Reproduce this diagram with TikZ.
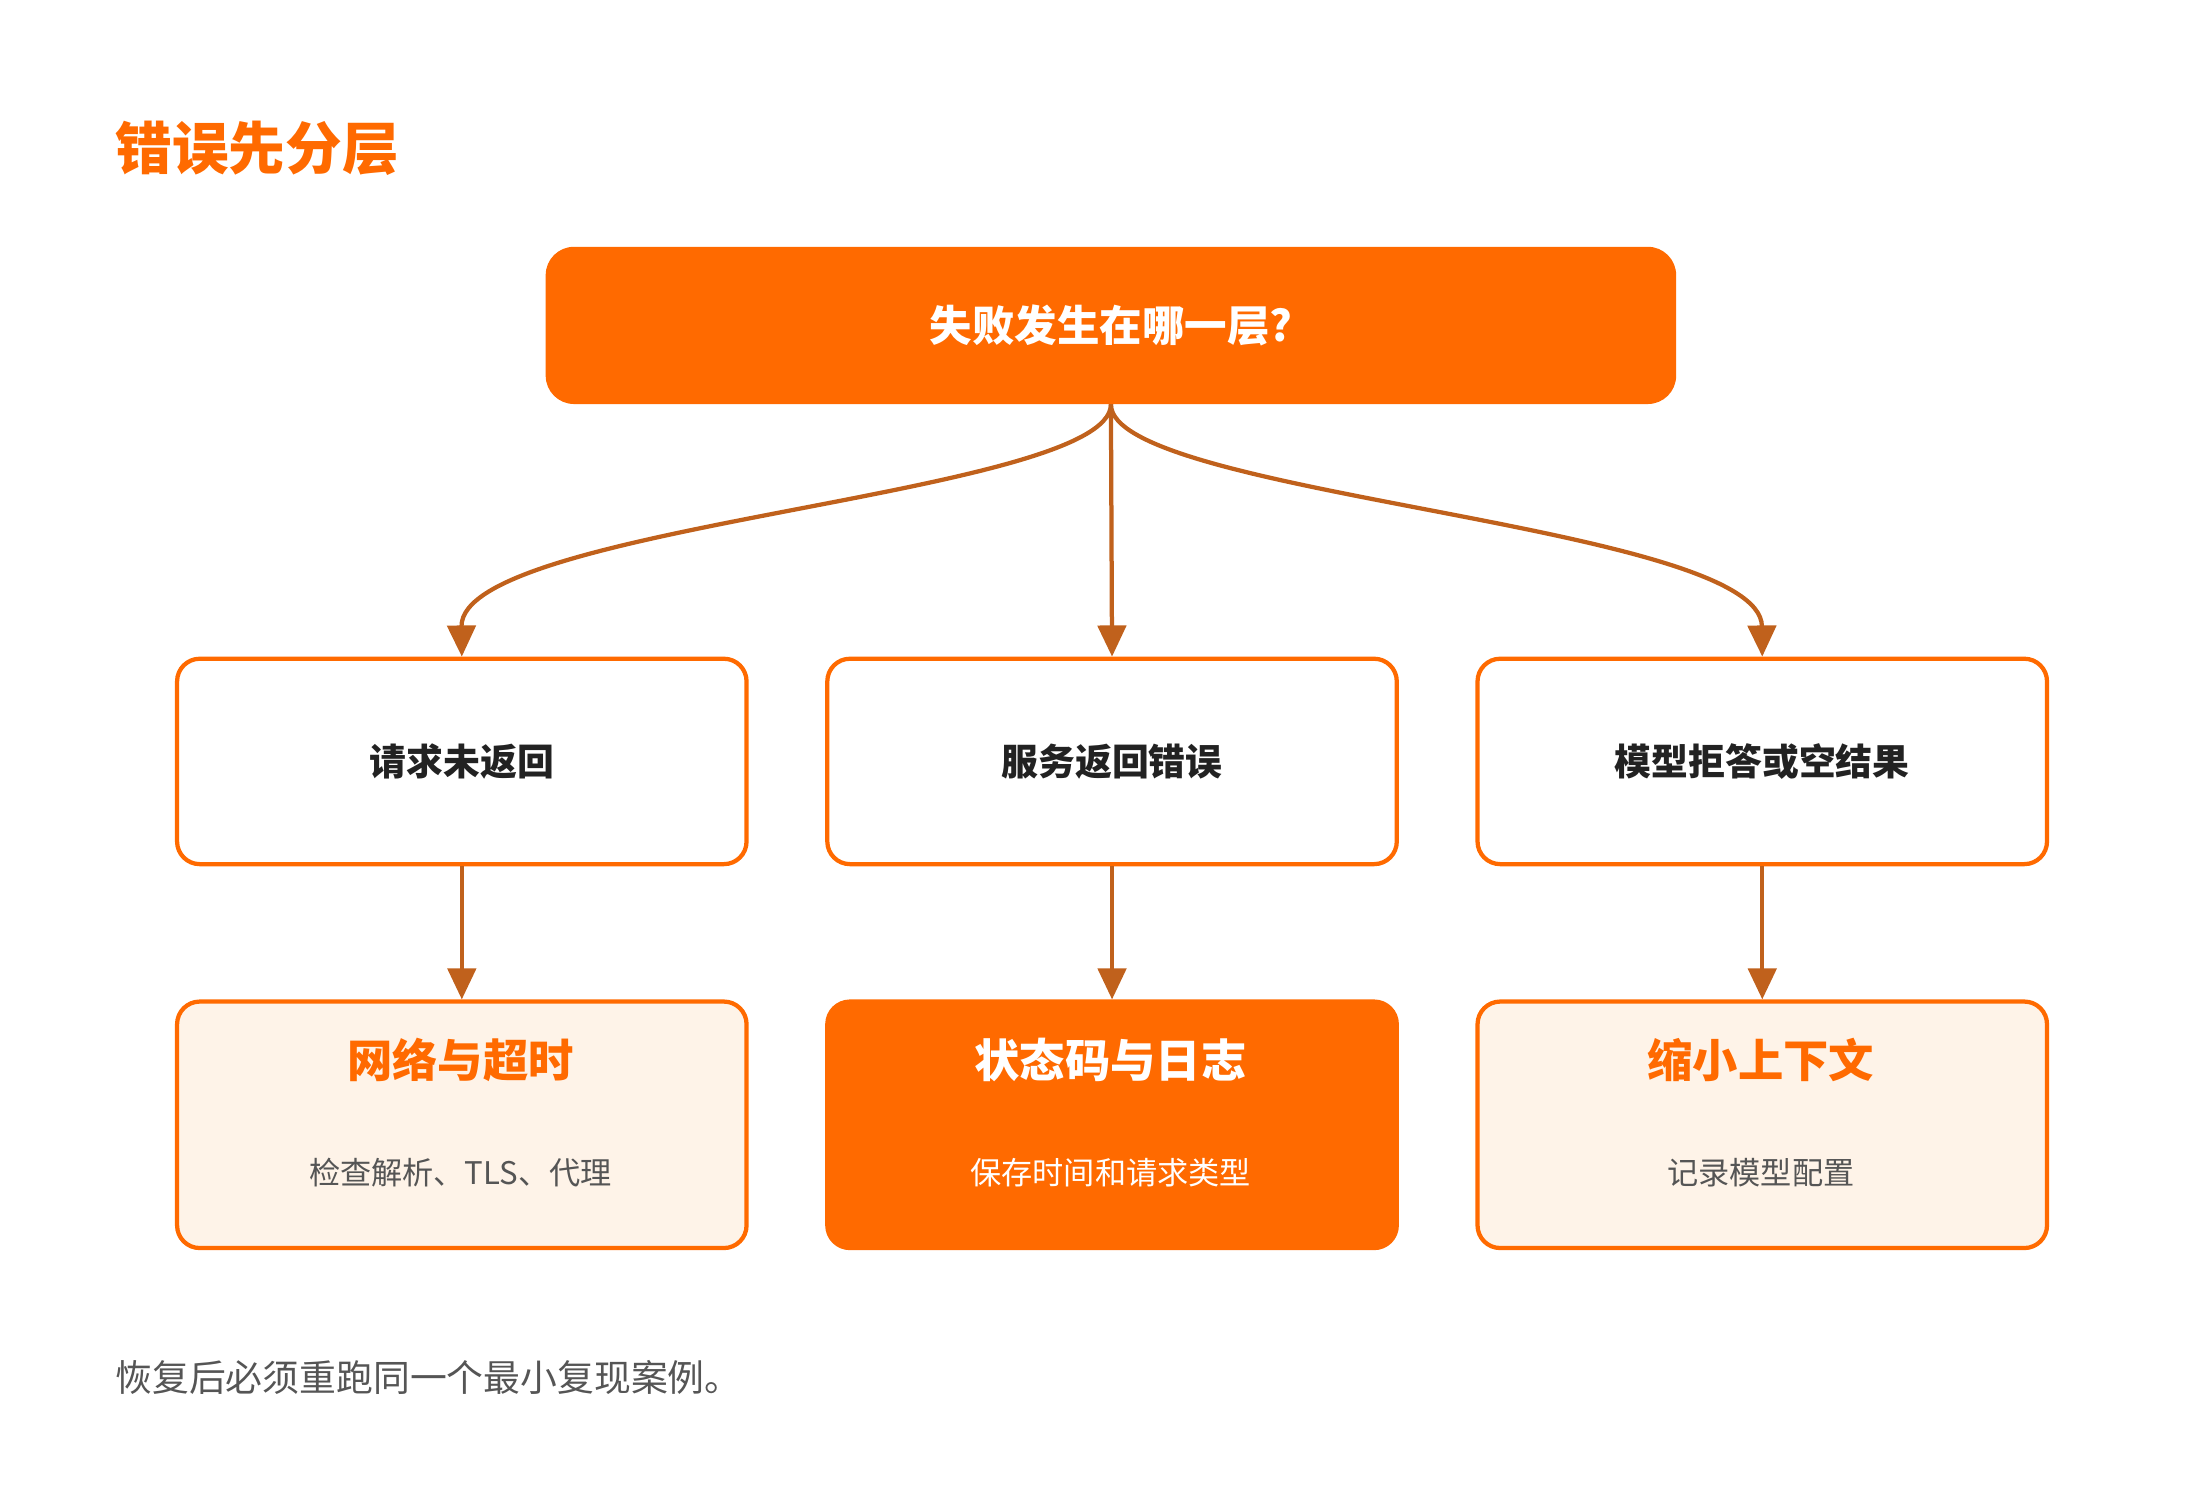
\documentclass[tikz,border=0pt]{standalone}
\usepackage{fontspec}
\setmainfont{Noto Sans CJK SC}
\usetikzlibrary{arrows.meta}
\definecolor{org}{HTML}{FF6A00}
\definecolor{arr}{HTML}{C0611C}
\definecolor{pale}{HTML}{FEF3E8}
\definecolor{dark}{HTML}{222222}
\definecolor{grey}{HTML}{555555}
\begin{document}
\begin{tikzpicture}[x=1pt,y=-1pt,
  box/.style={draw=org,line width=3pt,rounded corners=16pt,minimum width=402pt,anchor=north west,inner sep=0},
  mid/.style={box,fill=white,minimum height=145pt,font=\fontsize{26}{30}\selectfont\bfseries,text=dark},
  bot/.style={box,fill=pale,minimum height=174pt},
  con/.style={draw=arr,line width=3pt,-{Triangle[length=22pt,width=20pt]}},
  bt/.style={font=\fontsize{32}{36}\selectfont\bfseries,text=org},
  st/.style={font=\fontsize{22}{26}\selectfont,text=grey}]
\useasboundingbox (0,0) rectangle (1553,1050);
\node[anchor=west,font=\fontsize{40}{46}\selectfont\bfseries,text=org] (title) at (78,105) {错误先分层};
\node[anchor=north west,fill=org,rounded corners=20pt,minimum width=798pt,minimum height=111pt,font=\fontsize{30}{34}\selectfont\bfseries,text=white] (top) at (385,174) {失败发生在哪一层?};
\node[mid] (m1) at (123.5,463.5) {请求未返回};
\node[mid] (m2) at (582.5,463.5) {服务返回错误};
\node[mid] (m3) at (1041.5,463.5) {模型拒答或空结果};
\node[bot] (b1) at (123.5,705.5) {};
\node[box,fill=org,minimum height=174pt] (b2) at (582.5,705.5) {};
\node[bot] (b3) at (1041.5,705.5) {};
\node[bt] (t1) at (325,748) {网络与超时};
\node[bt,text=white] (t2) at (784,748) {状态码与日志};
\node[bt] (t3) at (1243,748) {缩小上下文};
\node[st] (s1) at (325,828) {检查解析、TLS、代理};
\node[st,text=white] (s2) at (784,828) {保存时间和请求类型};
\node[st] (s3) at (1243,828) {记录模型配置};
\node[anchor=west,font=\fontsize{26}{30}\selectfont,text=grey] (foot) at (78,972) {恢复后必须重跑同一个最小复现案例。};
\draw[con] (top.south) .. controls (784,350) and (325,370) .. (m1.north);
\draw[con] (top.south) -- (m2.north);
\draw[con] (top.south) .. controls (784,350) and (1243,370) .. (m3.north);
\draw[con] (m1.south) -- (b1.north);
\draw[con] (m2.south) -- (b2.north);
\draw[con] (m3.south) -- (b3.north);
\end{tikzpicture}
\end{document}
